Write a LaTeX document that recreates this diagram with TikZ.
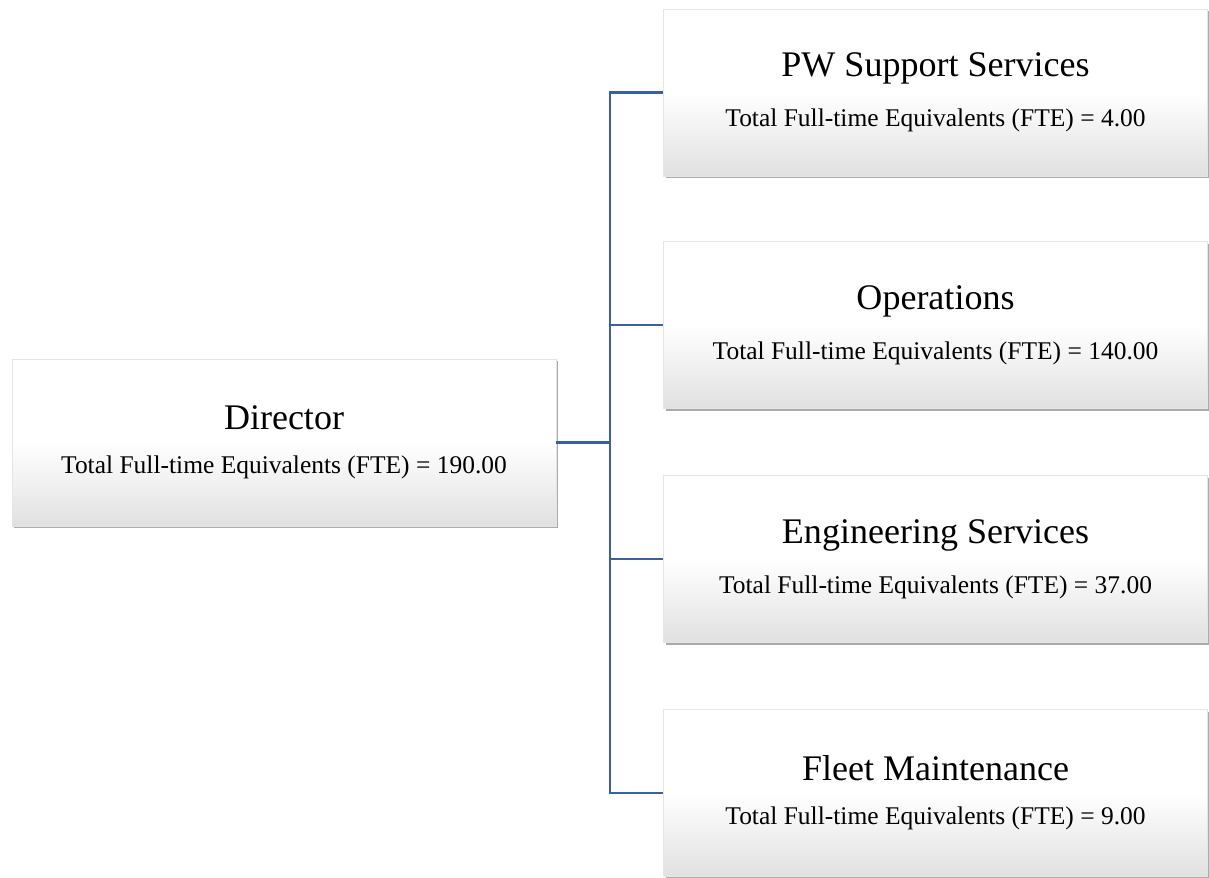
\documentclass[tikz,border=0pt]{standalone}
\usepackage{fontspec}
\setmainfont{Liberation Serif}
\usepackage{tikz}
\usetikzlibrary{shadows,positioning,calc}
\definecolor{linkblue}{RGB}{58, 95, 165}

\begin{document}
\begin{tikzpicture}[x=0.02cm, y=-0.02cm,
    unitbox/.style={rectangle, minimum width=10.88cm, minimum height=3.34cm,
        draw=black!10, line width=0.4pt,
        top color=white, bottom color=black!12, middle color=white,
        drop shadow={shadow xshift=1.2pt, shadow yshift=-1.4pt, fill=black!55, opacity=0.6},
        align=center, inner sep=0pt},
    link/.style={draw=linkblue, line width=1.4pt}]
        \useasboundingbox (0,0) rectangle (1209,878);

        % Director box (left)
        \node[unitbox] (dir) at (284,442.5) {{\fontsize{20.5}{24}\selectfont Director}\\[13pt]
            {\fontsize{14.5}{17}\selectfont Total Full-time Equivalents (FTE) = 190.00}};

        % Divisions (right column)
        \node[unitbox] (pw) at (935.5,92.5) {{\fontsize{20.5}{24}\selectfont PW Support Services}\\[13pt]
            {\fontsize{14.5}{17}\selectfont Total Full-time Equivalents (FTE) = 4.00}};
        \node[unitbox] (ops) at (935.5,325) {{\fontsize{20.5}{24}\selectfont Operations}\\[13pt]
            {\fontsize{14.5}{17}\selectfont Total Full-time Equivalents (FTE) = 140.00}};
        \node[unitbox] (eng) at (935.5,559) {{\fontsize{20.5}{24}\selectfont Engineering Services}\\[13pt]
            {\fontsize{14.5}{17}\selectfont Total Full-time Equivalents (FTE) = 37.00}};
        \node[unitbox] (fleet) at (935.5,793) {{\fontsize{20.5}{24}\selectfont Fleet Maintenance}\\[13pt]
            {\fontsize{14.5}{17}\selectfont Total Full-time Equivalents (FTE) = 9.00}};

        % Connectors
        \coordinate (trunk) at (610,442.5);
        \draw[link] (dir.east) -- (trunk);
        \foreach \n in {pw, ops, eng, fleet} {
            \draw[link] (trunk) |- (\n.west);
        }
    \end{tikzpicture}
\end{document}
